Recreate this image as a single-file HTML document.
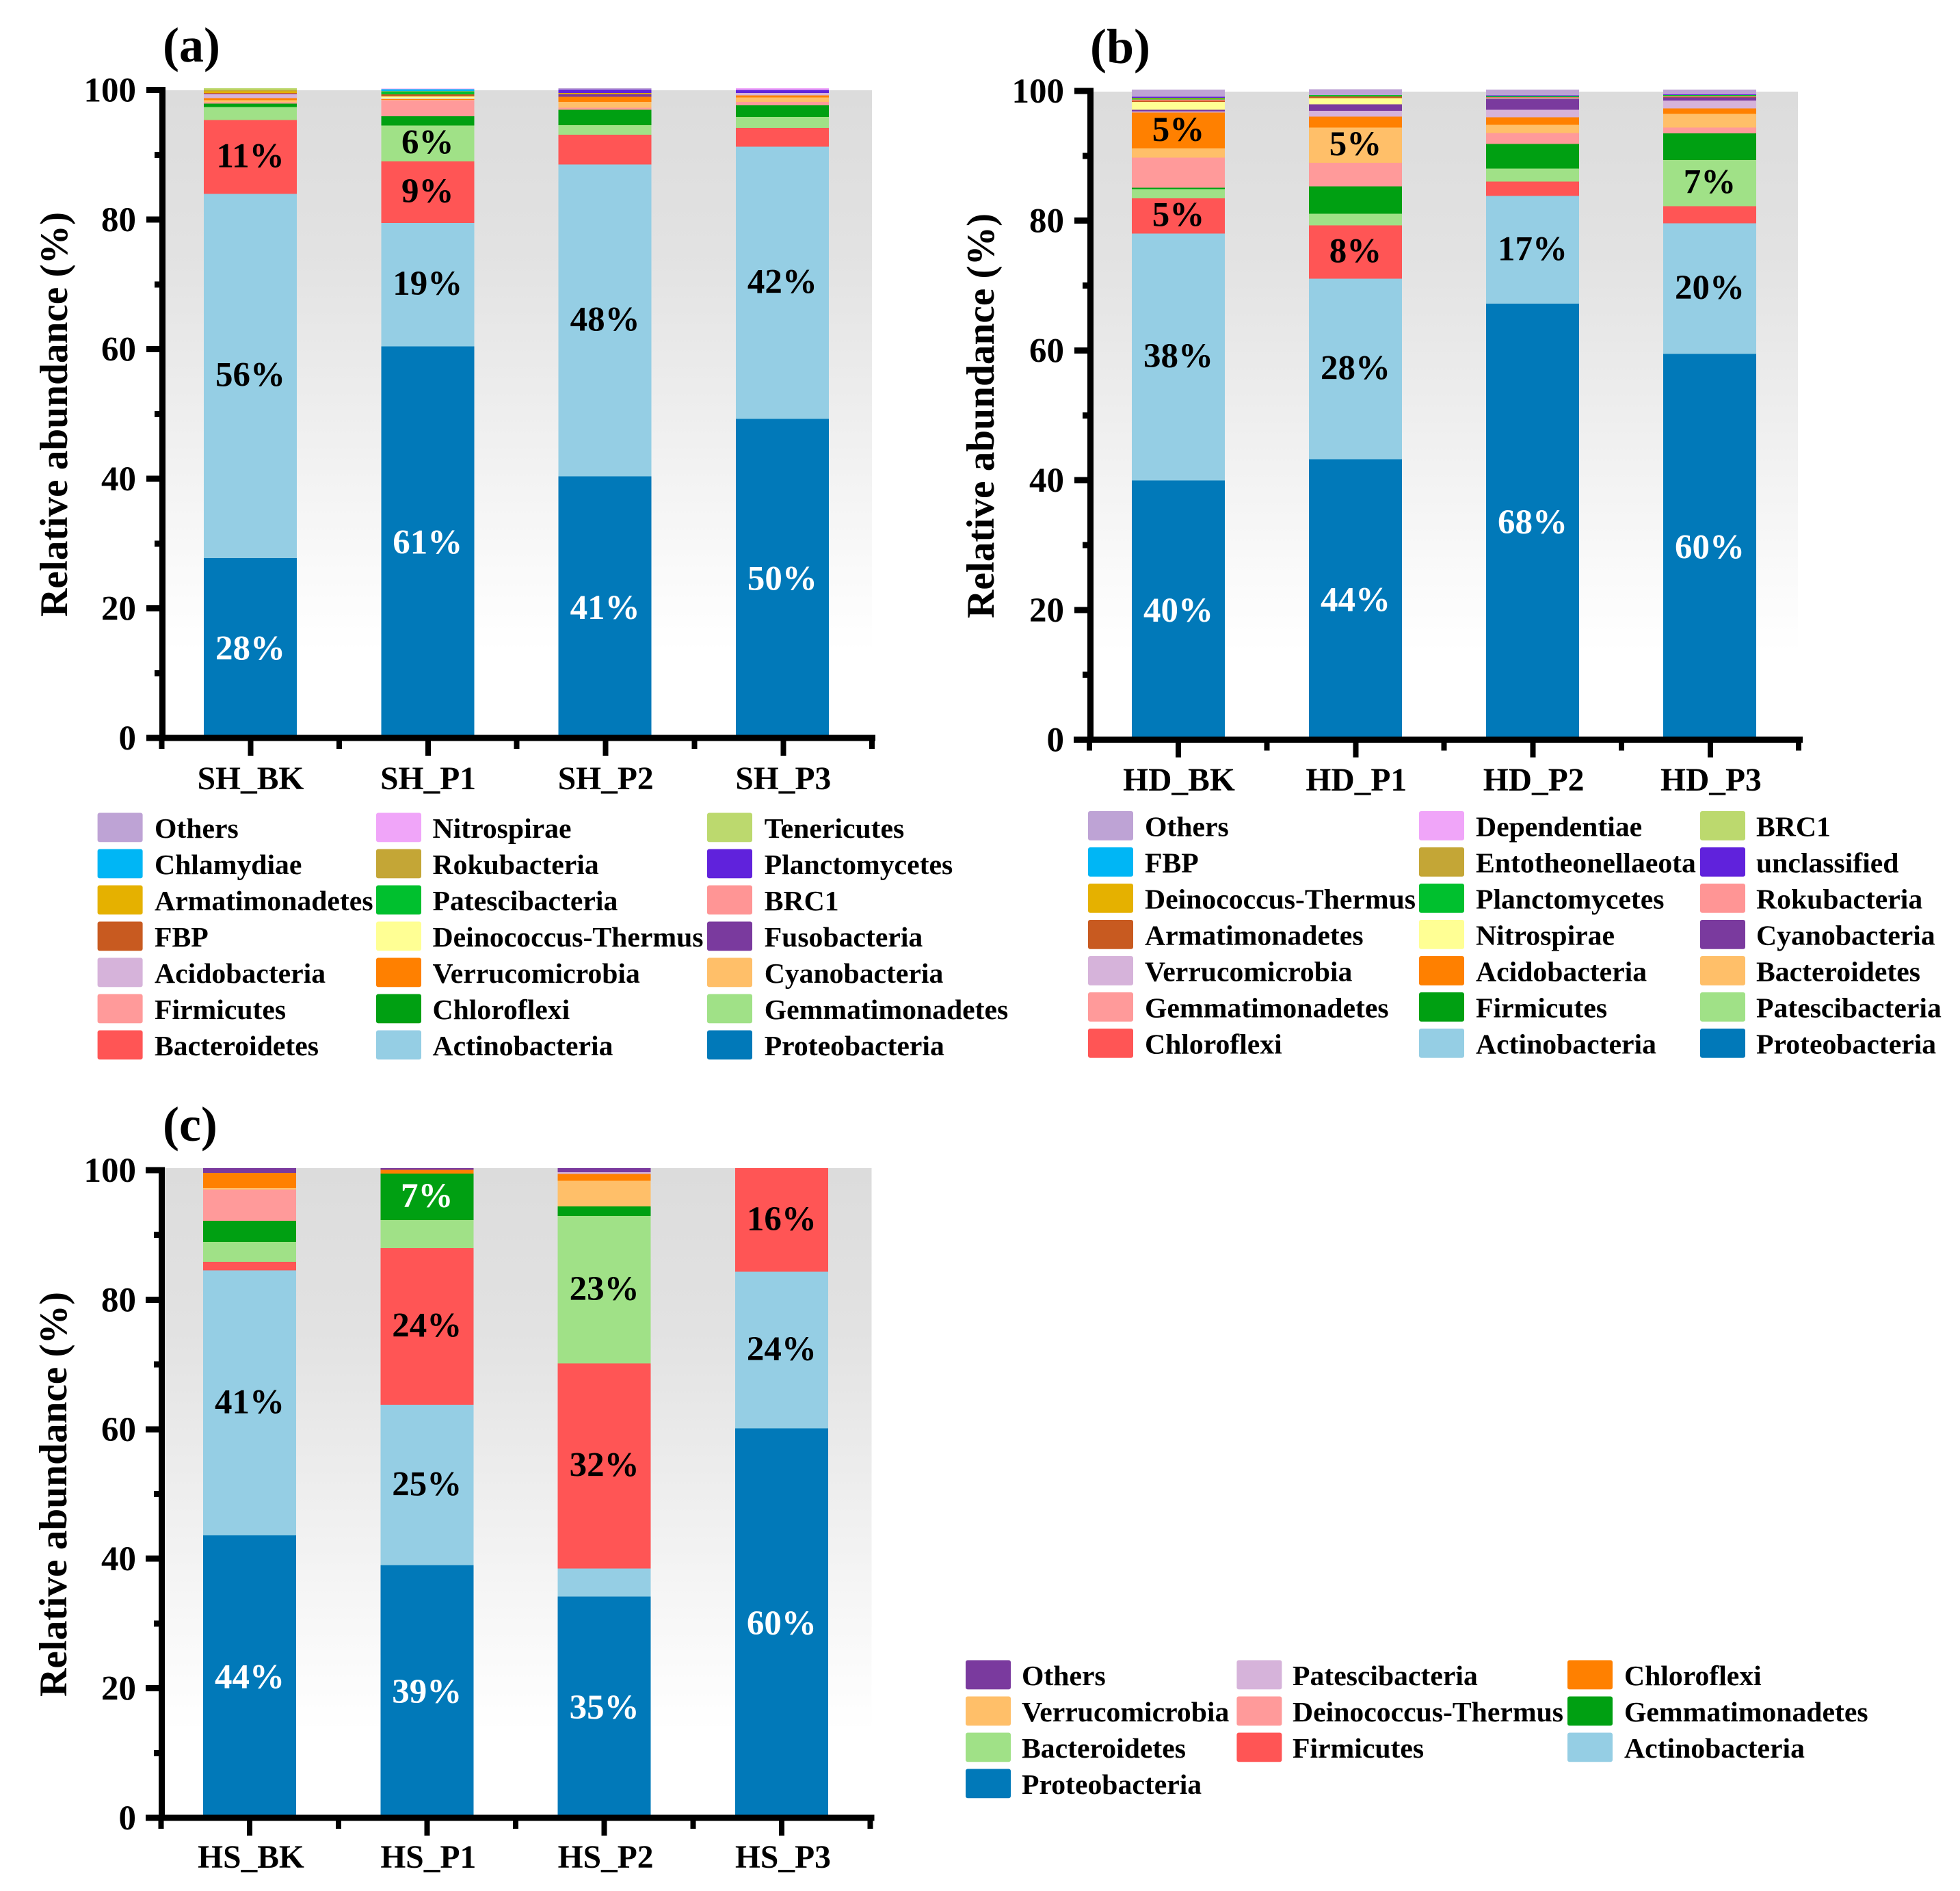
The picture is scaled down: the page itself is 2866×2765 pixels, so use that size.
<!DOCTYPE html>
<html lang="en">
<head>
<meta charset="utf-8">
<title>Relative abundance stacked bars</title>
<style>
html,body{margin:0;padding:0;background:#fff;}
#figure{display:block;width:2866px;height:2765px;font-family:"Liberation Serif",serif;font-weight:bold;}
text{font-family:"Liberation Serif",serif;font-weight:bold;fill:#000;}
</style>
</head>
<body>
<svg id="figure" xmlns="http://www.w3.org/2000/svg" width="2866" height="2765" viewBox="0 0 2866 2765">
<defs>
<linearGradient id="plotFade" x1="0" y1="0" x2="0" y2="1">
<stop offset="0" stop-color="#dcdcdc"/>
<stop offset="0.25" stop-color="#e2e2e2"/>
<stop offset="0.73" stop-color="#f9f9f9"/>
<stop offset="0.87" stop-color="#ffffff"/>
<stop offset="1" stop-color="#ffffff"/>
</linearGradient>
</defs>
</svg>
<script>
// ---------- Shared ----------
const palette = ['#0179b9','#95cee4','#ff5555','#a0e187','#00a012','#ff9a9a','#ffbf69','#ff8000','#d6b3da','#7a3a9e','#ffff94','#c85a20','#ff9595','#00c02e','#e5b100','#6022dc','#c4a636','#00b6f5','#bcd96e','#f0a5f9','#bea3d5'];
const yTickLabels = [0,20,40,60,80,100];
const yMinorTicks = [10,30,50,70,90];
const axisTitle = 'Relative abundance (%)';

// ---------- Panel (a) SH ----------
const shCategories = ['SH_BK','SH_P1','SH_P2','SH_P3'];
const shSeriesNames = ['Proteobacteria','Actinobacteria','Bacteroidetes','Gemmatimonadetes','Chloroflexi','Firmicutes','Cyanobacteria','Verrucomicrobia','Acidobacteria','Fusobacteria','Deinococcus-Thermus','FBP','BRC1','Patescibacteria','Armatimonadetes','Planctomycetes','Rokubacteria','Chlamydiae','Tenericutes','Nitrospirae','Others'];
const shProteobacteria = [27.4,60.1,40.0,48.9];
const shActinobacteria = [56.25,19.1,48.2,42.08];
const shBacteroidetes = [11.42,9.5,4.62,2.89];
const shGemmatimonadetes = [2.0,5.53,1.48,1.69];
const shChloroflexi = [0.53,1.44,2.36,1.8];
const shFirmicutes = [0.25,2.47,0.32,0.53];
const shCyanobacteria = [0.28,0.05,0.92,0.67];
const shVerrucomicrobia = [0.35,0.13,0.78,0.32];
const shAcidobacteria = [0.63,0.08,0,0.39];
const shFusobacteria = [0.05,0,0.42,0];
const shDeinococcus = [0,0.35,0,0];
const shFBP = [0.1,0.28,0,0];
const shBRC1 = [0,0,0,0];
const shPatescibacteria = [0,0.42,0,0];
const shArmatimonadetes = [0.28,0.05,0.18,0];
const shPlanctomycetes = [0,0,0.5,0.45];
const shRokubacteria = [0.2,0,0,0];
const shChlamydiae = [0,0.35,0,0];
const shTenericutes = [0.25,0,0,0];
const shNitrospirae = [0,0.1,0,0.28];
const shOthers = [0,0,0.22,0];
const shValues = [shProteobacteria,shActinobacteria,shBacteroidetes,shGemmatimonadetes,shChloroflexi,shFirmicutes,shCyanobacteria,shVerrucomicrobia,shAcidobacteria,shFusobacteria,shDeinococcus,shFBP,shBRC1,shPatescibacteria,shArmatimonadetes,shPlanctomycetes,shRokubacteria,shChlamydiae,shTenericutes,shNitrospirae,shOthers];
const shLabelProteobacteria = ['28%','61%','41%','50%'];
const shLabelActinobacteria = ['56%','19%','48%','42%'];
const shLabelBacteroidetes = ['11%','9%','',''];
const shLabelGemmatimonadetes = ['','6%','',''];
const shLabels = [shLabelProteobacteria,shLabelActinobacteria,shLabelBacteroidetes,shLabelGemmatimonadetes];

// ---------- Panel (b) HD ----------
const hdCategories = ['HD_BK','HD_P1','HD_P2','HD_P3'];
const hdSeriesNames = ['Proteobacteria','Actinobacteria','Chloroflexi','Patescibacteria','Firmicutes','Gemmatimonadetes','Bacteroidetes','Acidobacteria','Verrucomicrobia','Cyanobacteria','Nitrospirae','Armatimonadetes','Rokubacteria','Planctomycetes','Deinococcus-Thermus','unclassified','Entotheonellaeota','FBP','BRC1','Dependentiae','Others'];
const hdProteobacteria = [39.6,42.9,66.9,59.15];
const hdActinobacteria = [38.16,27.86,16.68,20.2];
const hdChloroflexi = [5.46,8.27,2.22,2.64];
const hdPatescibacteria = [1.41,1.8,2.0,7.15];
const hdFirmicutes = [0.18,4.23,3.8,4.12];
const hdGemmatimonadetes = [4.69,3.63,1.69,0.85];
const hdBacteroidetes = [1.41,5.46,1.27,2.15];
const hdAcidobacteria = [5.53,1.66,1.16,0.81];
const hdVerrucomicrobia = [0.18,0.92,1.16,1.23];
const hdCyanobacteria = [0.28,1.02,1.73,0.49];
const hdNitrospirae = [1.2,0.92,0.1,0];
const hdArmatimonadetes = [0.2,0.25,0.1,0.1];
const hdRokubacteria = [0.18,0,0.05,0.1];
const hdPlanctomycetes = [0.14,0.25,0.15,0.15];
const hdDeinococcus = [0.1,0,0,0];
const hdUnclassified = [0.18,0,0.1,0.1];
const hdEntotheonellaeota = [0,0,0,0];
const hdFBP = [0,0,0,0];
const hdBRC1 = [0,0,0,0];
const hdDependentiae = [0,0,0,0];
const hdOthers = [1.1,0.86,0.88,0.75];
const hdValues = [hdProteobacteria,hdActinobacteria,hdChloroflexi,hdPatescibacteria,hdFirmicutes,hdGemmatimonadetes,hdBacteroidetes,hdAcidobacteria,hdVerrucomicrobia,hdCyanobacteria,hdNitrospirae,hdArmatimonadetes,hdRokubacteria,hdPlanctomycetes,hdDeinococcus,hdUnclassified,hdEntotheonellaeota,hdFBP,hdBRC1,hdDependentiae,hdOthers];
const hdLabelProteobacteria = ['40%','44%','68%','60%'];
const hdLabelActinobacteria = ['38%','28%','17%','20%'];
const hdLabelChloroflexi = ['5%','8%','',''];
const hdLabelPatescibacteria = ['','','','7%'];
const hdLabelFirmicutes = ['','','',''];
const hdLabelGemmatimonadetes = ['','','',''];
const hdLabelBacteroidetes = ['','5%','',''];
const hdLabelAcidobacteria = ['5%','','',''];
const hdLabels = [hdLabelProteobacteria,hdLabelActinobacteria,hdLabelChloroflexi,hdLabelPatescibacteria,hdLabelFirmicutes,hdLabelGemmatimonadetes,hdLabelBacteroidetes,hdLabelAcidobacteria];

// ---------- Panel (c) HS ----------
const hsCategories = ['HS_BK','HS_P1','HS_P2','HS_P3'];
const hsSeriesNames = ['Proteobacteria','Actinobacteria','Firmicutes','Bacteroidetes','Gemmatimonadetes','Deinococcus-Thermus','Verrucomicrobia','Chloroflexi','Patescibacteria','Others'];
const hsProteobacteria = [43.25,38.65,33.8,59.8];
const hsActinobacteria = [40.93,24.75,4.3,24.16];
const hsFirmicutes = [1.34,24.23,31.7,16.04];
const hsBacteroidetes = [3.06,4.33,22.8,0];
const hsGemmatimonadetes = [3.28,7.22,1.48,0];
const hsDeinococcus = [4.79,0,0,0];
const hsVerrucomicrobia = [0.28,0,3.95,0];
const hsChloroflexi = [2.33,0.55,1.06,0];
const hsPatescibacteria = [0,0,0.28,0];
const hsOthers = [0.74,0.27,0.63,0];
const hsValues = [hsProteobacteria,hsActinobacteria,hsFirmicutes,hsBacteroidetes,hsGemmatimonadetes,hsDeinococcus,hsVerrucomicrobia,hsChloroflexi,hsPatescibacteria,hsOthers];
const hsLabelProteobacteria = ['44%','39%','35%','60%'];
const hsLabelActinobacteria = ['41%','25%','','24%'];
const hsLabelFirmicutes = ['','24%','32%','16%'];
const hsLabelBacteroidetes = ['','','23%',''];
const hsLabelGemmatimonadetes = ['','7%','',''];
const hsLabels = [hsLabelProteobacteria,hsLabelActinobacteria,hsLabelFirmicutes,hsLabelBacteroidetes,hsLabelGemmatimonadetes];

// ---------- Layout ----------
const panels = [
  {id:'a',title:'(a)',titleX:238,titleY:90,categories:shCategories,names:shSeriesNames,values:shValues,labels:shLabels,whiteLabels:['Proteobacteria'],
   axisX:237.5,xLeft:214,xRight:1280,bg:[242,1275,132,1075],tickZero:1079,tickHundred:131.7,barZero:1075,barTop:129,barFirst:366,barStep:259.3,barW:136,xTickFirst:366.5,xTickStep:259.6,minorFirst:236.5,tickLabelX:199,titleBaseX:98,titleMidY:606,catY:1154,catShift:0,
   legend:{xs:[142.6,550,1034],textXs:[226,632.5,1117.7],top:1188.5,pitch:53,w:66,h:42.7,fs:41.7}},
  {id:'b',title:'(b)',titleX:1594,titleY:92,categories:hdCategories,names:hdSeriesNames,values:hdValues,labels:hdLabels,whiteLabels:['Proteobacteria'],
   axisX:1594.5,xLeft:1570,xRight:2636,bg:[1599,2629,134,1077],tickZero:1081.6,tickHundred:133,barZero:1077.3,barTop:131,barFirst:1723,barStep:259,barW:136,xTickFirst:1723,xTickStep:259.3,minorFirst:1593,tickLabelX:1556,titleBaseX:1453,titleMidY:608,catY:1156,catShift:1,
   legend:{xs:[1591,2075,2486],textXs:[1674,2158,2568],top:1186,pitch:53,w:66,h:42.7,fs:41.7}},
  {id:'c',title:'(c)',titleX:238,titleY:1668,categories:hsCategories,names:hsSeriesNames,values:hsValues,labels:hsLabels,whiteLabels:['Proteobacteria','Gemmatimonadetes'],
   axisX:236.3,xLeft:214,xRight:1278.6,bg:[240.5,1274.5,1708,2654],tickZero:2658,tickHundred:1711,barZero:2654,barTop:1708,barFirst:365,barStep:259.3,barW:136,xTickFirst:365,xTickStep:259.3,minorFirst:235.5,tickLabelX:199,titleBaseX:97,titleMidY:2185,catY:2731,catShift:2,
   legend:{xs:[1412,1808.4,2292],textXs:[1494,1890,2375],top:2427.5,pitch:53,w:66,h:42.7,fs:41.7}}
];

// ---------- Drawing ----------
const svg = document.getElementById('figure');
const NS = 'http://www.w3.org/2000/svg';

function rect(parent, x, y, w, h, fill) {
  const r = document.createElementNS(NS, 'rect');
  r.setAttribute('x', x);
  r.setAttribute('y', y);
  r.setAttribute('width', w);
  r.setAttribute('height', h);
  r.setAttribute('fill', fill);
  r.setAttribute('shape-rendering', 'crispEdges');
  parent.appendChild(r);
  return r;
}
function label(parent, x, y, str, size, anchor, color) {
  const t = document.createElementNS(NS, 'text');
  t.setAttribute('x', x);
  t.setAttribute('y', y);
  t.setAttribute('font-size', size);
  t.setAttribute('text-anchor', anchor);
  t.style.fill = color;
  t.textContent = str;
  parent.appendChild(t);
  return t;
}
function group(parent) {
  const g = document.createElementNS(NS, 'g');
  parent.appendChild(g);
  return g;
}

panels.forEach(function (p) {
  const barY = function (v) { return p.barZero - v * (p.barZero - p.barTop) / 100; };
  const tickY = function (v) { return p.tickZero - v * (p.tickZero - p.tickHundred) / 100; };
  const barX = function (i) { return p.barFirst + i * p.barStep; };

  const panel = group(svg);
  
  

  const bg = rect(panel, p.bg[0], p.bg[2], p.bg[1] - p.bg[0], p.bg[3] - p.bg[2], 'url(#plotFade)');
  
  

  // bars
  p.categories.forEach(function (cat, ci) {
    const barGroup = group(panel);
    
    
    let base = 0;
    p.values.forEach(function (series, si) {
      const v = series[ci];
      if (v > 0) {
        const top = base + v;
        const seg = rect(barGroup, barX(ci) - p.barW / 2, barY(top), p.barW, barY(base) - barY(top), palette[si]);
        
        
      }
      base += v;
    });
  });

  // value labels
  p.labels.forEach(function (row, si) {
    row.forEach(function (str, ci) {
      if (!str) return;
      let base = 0;
      for (let k = 0; k < si; k++) base += p.values[k][ci];
      const mid = base + p.values[si][ci] / 2;
      const color = p.whiteLabels.indexOf(p.names[si]) >= 0 ? '#ffffff' : '#000000';
      const t = label(panel, barX(ci), barY(mid) + (si === 0 ? 19 : 15), str, 51, 'middle', color);
      
      
    });
  });

  // axes
  const yAxis = rect(panel, p.axisX - 4.5, tickY(100) - 4.5, 9, tickY(0) - tickY(100) + 9, '#000');
  
  
  const xAxis = rect(panel, p.xLeft, tickY(0) - 4.5, p.xRight - p.xLeft, 9, '#000');
  
  

  yTickLabels.forEach(function (v) {
    const tk = rect(panel, p.axisX - 23.5, tickY(v) - 4.5, 20, 9, '#000');
    
    
    const tl = label(panel, p.tickLabelX, tickY(v) + 17, String(v), 51, 'end', '#000');
    
    
  });
  yMinorTicks.forEach(function (v) {
    const tk = rect(panel, p.axisX - 11.5, tickY(v) - 4.5, 8, 9, '#000');
    
    
  });
  p.categories.forEach(function (cat, ci) {
    const x = p.xTickFirst + ci * p.xTickStep;
    const tk = rect(panel, x - 4, tickY(0) + 4, 8, 22, '#000');
    
    
    const tl = label(panel, x + p.catShift, p.catY, cat, 47.5, 'middle', '#000');
    
    
  });
  for (let m = 0; m <= p.categories.length; m++) {
    const tk = rect(panel, p.minorFirst + m * p.xTickStep - 4, tickY(0) + 4, 8, 12, '#000');
    
    
  }

  // titles
  const yt = label(panel, 0, 0, axisTitle, 57.3, 'middle', '#000');
  yt.setAttribute('transform', 'translate(' + p.titleBaseX + ',' + p.titleMidY + ') rotate(-90)');
  
  
  const pt = label(panel, p.titleX, p.titleY, p.title, 72, 'start', '#000');
  
  

  // legend
  const legend = group(panel);
  
  
  const L = p.legend;
  for (let n = p.names.length - 1, idx = 0; n >= 0; n--, idx++) {
    const col = idx % 3;
    const row = Math.floor(idx / 3);
    const y = L.top + row * L.pitch;
    const sw = rect(legend, L.xs[col], y, L.w, L.h, palette[n]);
    sw.setAttribute('rx', 3);
    sw.setAttribute('shape-rendering', 'auto');
    
    
    const tx = label(legend, L.textXs[col], y + 36.5, p.names[n], L.fs, 'start', '#000');
    
    
  }
});
</script>
</body>
</html>
